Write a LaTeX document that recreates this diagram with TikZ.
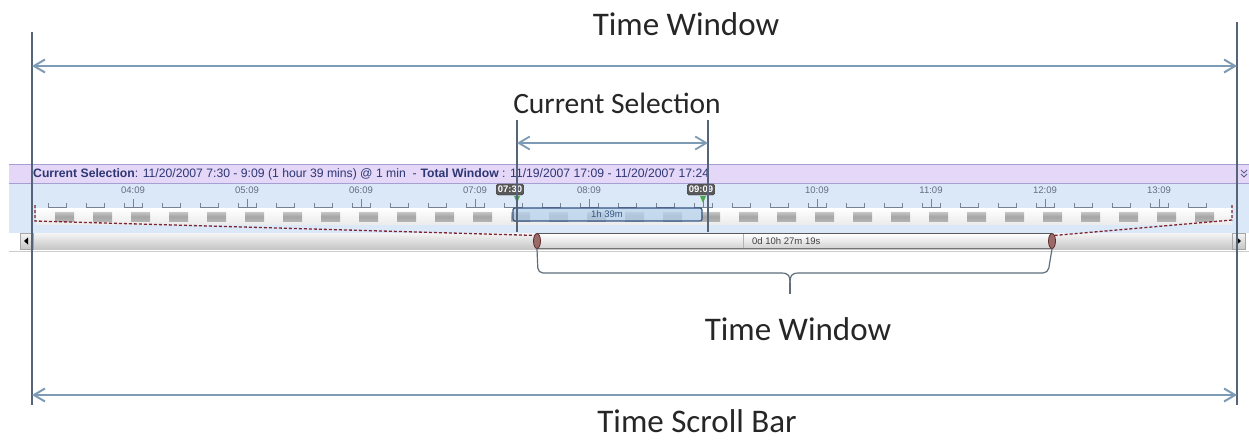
\documentclass[tikz,border=0pt]{standalone}
\usepackage{fontspec}
\setmainfont{Carlito}
\newfontfamily\uifont{Liberation Sans}
\usetikzlibrary{arrows.meta,shapes.geometric}

\definecolor{vline}{RGB}{85,100,120}
\definecolor{dimline}{RGB}{125,155,180}
\definecolor{hdrbg}{RGB}{228,215,247}
\definecolor{hdrline}{RGB}{165,160,210}
\definecolor{hdrtext}{RGB}{45,55,115}
\definecolor{panelbg}{RGB}{218,232,248}
\definecolor{ticklbl}{RGB}{100,110,130}
\definecolor{tickcol}{RGB}{120,130,145}
\definecolor{dashred}{RGB}{125,35,50}
\definecolor{selfill}{RGB}{180,208,234}
\definecolor{seledge}{RGB}{55,85,130}
\definecolor{handlecol}{RGB}{120,55,55}
\definecolor{bracecol}{RGB}{95,110,125}

\begin{document}
\begin{tikzpicture}[x=1pt,y=-1pt,
  guide/.style={draw=vline, line width=1.3pt},
  dimarrow/.style={draw=dimline, line width=2pt,
    {Straight Barb[length=11pt,width=13pt]}-{Straight Barb[length=11pt,width=13pt]}},
  bigtitle/.style={font=\fontsize{33}{36}\selectfont, text=black!85, inner sep=0pt, anchor=base},
  midtitle/.style={font=\fontsize{29.5}{32}\selectfont, text=black!85, inner sep=0pt, anchor=base},
  hdr/.style={font=\uifont\fontsize{12.2}{13}\selectfont, text=hdrtext, inner sep=0pt, anchor=base west},
  ticklabel/.style={font=\uifont\fontsize{9.5}{10}\selectfont, text=ticklbl, inner sep=0pt},
  selmark/.style={font=\uifont\bfseries\fontsize{9.5}{10}\selectfont, text=white, fill=black!65,
    draw=black!80, rounded corners=1.5pt, inner xsep=1.5pt, inner ysep=1pt, minimum height=11pt},
  handlenode/.style={ellipse, minimum width=7pt, minimum height=15pt, inner sep=0pt,
    fill=handlecol!75, draw=handlecol!80!black, line width=0.8pt},
  dashedge/.style={draw=dashred, line width=1.3pt, dash pattern=on 3pt off 2pt},
  bracestyle/.style={draw=bracecol, line width=1.2pt},
  scrolltext/.style={font=\uifont\fontsize{9.5}{10}\selectfont, text=black!75, inner sep=0pt}
]
\useasboundingbox (0,0) rectangle (1249,442);
\fill[white] (0,0) rectangle (1249,442);

% ---------- panel ----------
\fill[panelbg] (9,183) rectangle (1249,233);
\fill[hdrbg] (9,164) rectangle (1249,183);
\draw[hdrline, line width=1pt] (9,164) -- (1249,164);
\draw[hdrline, line width=1pt] (9,183) -- (1249,183);

% header text
\node[hdr] (hdrA) at (33,177.5) {\textbf{Current Selection}: 11/20/2007 7:30 - 9:09 (1 hour 39 mins) @ 1 min\ \ -\ \ };
\node[hdr, anchor=base west] (hdrB) at (hdrA.base east) {\textbf{Total Window} : 11/19/2007 17:09 - 11/20/2007 17:24};
% chevron
\draw[hdrtext!80, line width=0.8pt] (1241,170) -- (1244,173) -- (1247,170);
\draw[hdrtext!80, line width=0.8pt] (1241,174) -- (1244,177) -- (1247,174);

% light strip with gray blocks
\shade[top color=white, bottom color=white!85!gray] (36,208) rectangle (1232,224);
\foreach \k in {1,...,31} {
  \pgfmathsetmacro\c{19+38*\k}
  \shade[top color=gray!45, bottom color=gray!60, middle color=gray!70] (\c-2,212) rectangle (\c+17,221);
}
% ticks
\foreach \k in {1,...,31} {
  \pgfmathsetmacro\c{19+38*\k}
  \draw[tickcol, line width=0.7pt] (\c-9,203) -- (\c-9,207) -- (\c+9,207) -- (\c+9,203);
}
\foreach \m/\lab in {0/04:09,1/05:09,2/06:09,3/07:09,4/08:09,6/10:09,7/11:09,8/12:09,9/13:09} {
  \pgfmathsetmacro\c{133+114*\m}
  \draw[tickcol, line width=0.7pt] (\c,199) -- (\c,207);
  \node[ticklabel] at (\c,190) {\lab};
}
\draw[tickcol, line width=0.7pt] (703,199) -- (703,207);

% selection box
\fill[selfill, opacity=0.75] (513,208) rectangle (702,221);
\draw[seledge, line width=1.2pt, rounded corners=2pt] (513,208) rectangle (702,221);
\node[scrolltext, text=seledge] (selbox) at (607,214.5) {1h 39m};

% selection markers
\fill[green!50!black!70] (514,196) -- (517,203) -- (520,196) -- cycle;
\fill[green!50!black!70] (700,196) -- (703,203) -- (706,196) -- cycle;
\node[selmark] (m0730) at (510,189.5) {07:30};
\node[selmark] (m0909) at (701,189.5) {09:09};

% scroll bar
\shade[top color=white!92!gray, bottom color=gray!45] (20,233) rectangle (1245,249);
\shade[top color=white, bottom color=gray!35] (537,234) rectangle (1052,248);
\draw[black!65, line width=1pt] (537,233.5) -- (1052,233.5);
\draw[black!55, line width=1pt] (537,248.5) -- (1052,248.5);
\draw[gray!60, line width=0.6pt] (743,234) -- (743,248);
\node[scrolltext, anchor=west] (dur) at (752,241) {0d 10h 27m 19s};
\draw[gray!70, line width=0.6pt] (20,233) rectangle (33,249);
\draw[gray!70, line width=0.6pt] (1232,233) rectangle (1245,249);
\fill[black] (24,241) -- (28,237.5) -- (28,244.5) -- cycle;
\fill[black] (1241,241) -- (1237,237.5) -- (1237,244.5) -- cycle;
\draw[gray!40, line width=0.8pt] (9,251) -- (1249,251);

% dashed zoom lines
\node[handlenode] (hL) at (537,241) {};
\node[handlenode] (hR) at (1052,241) {};
\coordinate (dL1) at (35,205);
\coordinate (dL2) at (35,221);
\coordinate (dR1) at (1232,205);
\coordinate (dR2) at (1232,220);
\draw[dashedge] (dL1) -- (dL2) -- (hL.north west);
\draw[dashedge] (dR1) -- (dR2) -- (hR.north east);

% ---------- annotations ----------
\coordinate (LT) at (32,32);
\coordinate (LB) at (32,405);
\coordinate (RT) at (1237,22);
\coordinate (RB) at (1237,405);
\draw[guide] (LT) -- (LB);
\draw[guide] (RT) -- (RB);

\coordinate (twA) at (32,66);
\coordinate (twB) at (1237,66);
\draw[dimarrow] (twA) -- (twB);
\node[bigtitle] (twTop) at (686,35) {Time Window};

\coordinate (tsA) at (32,395);
\coordinate (tsB) at (1237,395);
\draw[dimarrow] (tsA) -- (tsB);
\node[bigtitle] (tsb) at (697,432) {Time Scroll Bar};

\coordinate (csLT) at (517,120);
\coordinate (csLB) at (517,232);
\coordinate (csRT) at (708,120);
\coordinate (csRB) at (708,232);
\draw[guide, line width=1.2pt] (csLT) -- (csLB);
\draw[guide, line width=1.2pt] (csRT) -- (csRB);
\coordinate (csA) at (517,143);
\coordinate (csB) at (708,143);
\draw[dimarrow, line width=1.8pt] (csA) -- (csB);
\node[midtitle] (cs) at (617,113) {Current Selection};

% brace under the scroll bar thumb
\coordinate (brTip) at (790,283);
\coordinate (brEnd) at (790,294);
\draw[bracestyle, rounded corners=5pt] (hL.south) -- (538,273) -- (781,273);
\draw[bracestyle, rounded corners=5pt] (hR.south) -- (1048,273) -- (799,273);
\draw[bracestyle] (781,273) .. controls (789,273) and (790,276) .. (brTip);
\draw[bracestyle] (799,273) .. controls (791,273) and (790,276) .. (brTip);
\draw[bracestyle] (brTip) -- (brEnd);
\node[bigtitle] (twBot) at (798,340) {Time Window};
\end{tikzpicture}
\end{document}
